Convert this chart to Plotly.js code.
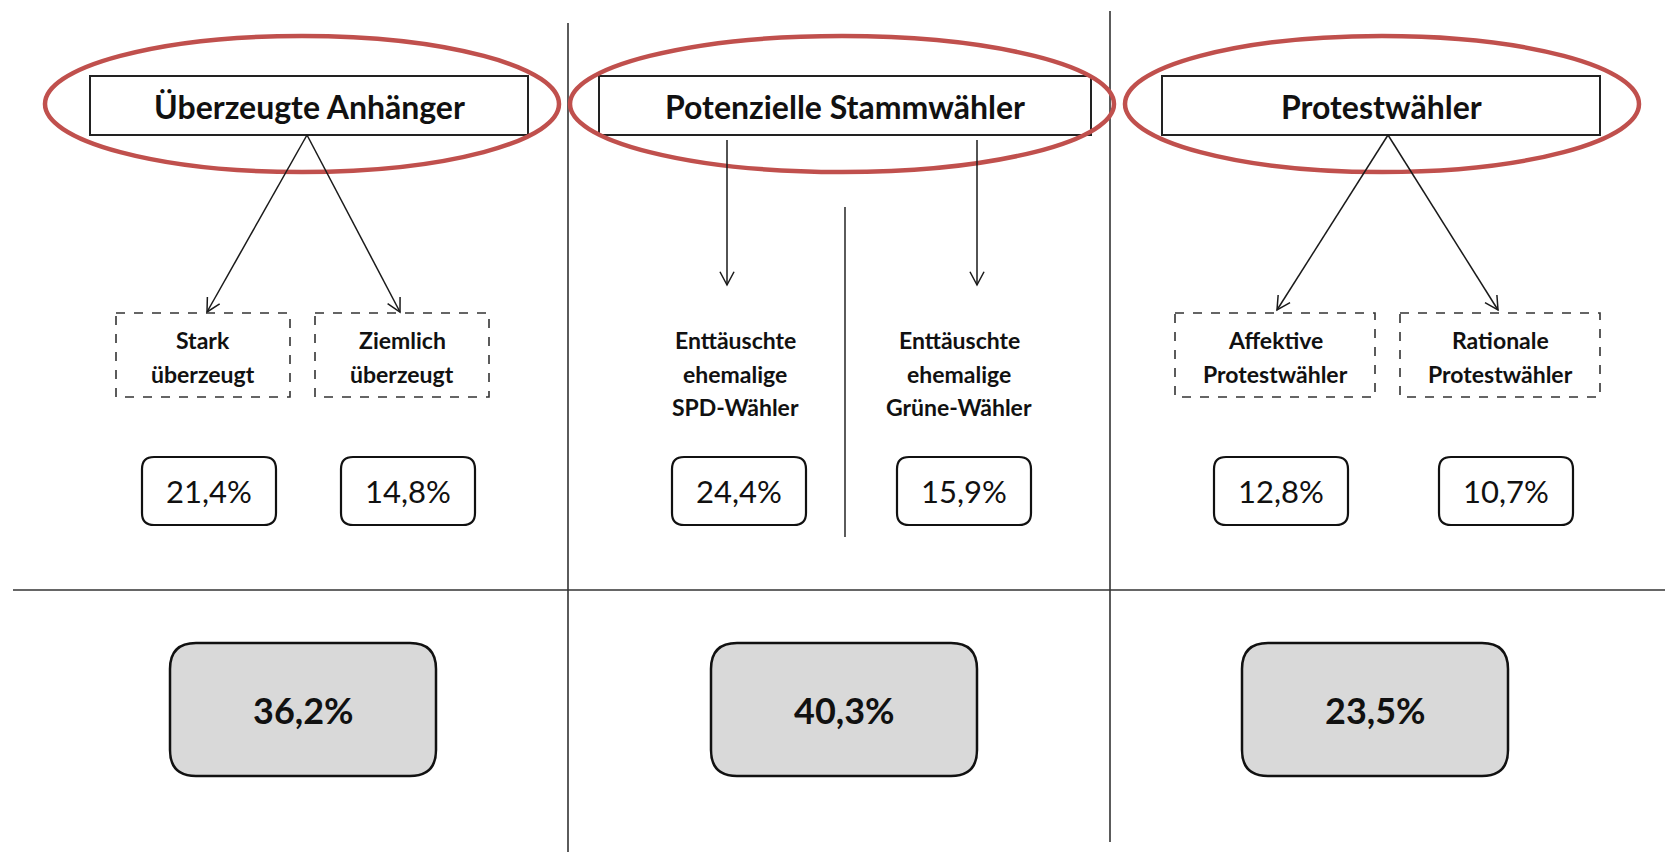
<!DOCTYPE html>
<html><head><meta charset="utf-8">
<script src="https://cdn.plot.ly/plotly-3.0.1.min.js"></script>
<style>html,body{margin:0;padding:0;background:#fff;overflow:hidden}</style>
</head><body><div id="chart" style="width:1665px;height:852px"></div>
<script>
// ---- data ----
const groups = ["Überzeugte Anhänger", "Potenzielle Stammwähler", "Protestwähler"];
const subLabels = ["Stark<br>überzeugt", "Ziemlich<br>überzeugt",
  "Enttäuschte<br>ehemalige<br>SPD-Wähler", "Enttäuschte<br>ehemalige<br>Grüne-Wähler",
  "Affektive<br>Protestwähler", "Rationale<br>Protestwähler"];
const subGroup = [0, 0, 1, 1, 2, 2];
const subValues = [21.4, 14.8, 24.4, 15.9, 12.8, 10.7];
const totals = [36.2, 40.3, 23.5];

// ---- layout geometry (pixels, y downwards) ----
const W = 1665, H = 852;
const hdr = {cx: [309, 845, 1381], hw: [219, 246, 219], y0: 76, y1: 135, ty: 106};
const ell = {cx: [302, 842, 1382], rx: [257, 272, 257], cy: 104, ry: 68};
const sub = {cx: [203, 402, 735, 959, 1275, 1500], hw: [87, 87, 0, 0, 100, 100], dashed: [true, true, false, false, true, true],
  y0: 313, y1: 397, firstLine: 340, lineGap: 33.5};
const arrowFrom = [[307, 135], [307, 135], [727, 140], [977, 140], [1388, 135], [1388, 135]];
const arrowTo = [[207, 312], [400, 312], [727, 285], [977, 285], [1277, 310], [1498, 310]];
const val = {cx: [209, 408, 739, 964, 1281, 1506], hw: 67, y0: 457, y1: 525, r: 12};
const tot = {cx: [303, 844, 1375], hw: 133, y0: 643, y1: 776, r: 26};
const dividers = [[568, 23, 568, 852], [1110, 11, 1110, 842], [13, 590, 1665, 590], [845, 207, 845, 537]];

const fmt = v => v.toFixed(1).replace('.', ',') + '%';
function rrect(x0, y0, x1, y1, r) {
  return `M${x0 + r},${y0} L${x1 - r},${y0} Q${x1},${y0} ${x1},${y0 + r} L${x1},${y1 - r} Q${x1},${y1} ${x1 - r},${y1} ` +
         `L${x0 + r},${y1} Q${x0},${y1} ${x0},${y1 - r} L${x0},${y0 + r} Q${x0},${y0} ${x0 + r},${y0} Z`;
}
function chevron(x0, y0, x1, y1, L, angDeg) {
  const dx = x1 - x0, dy = y1 - y0, n = Math.hypot(dx, dy), ux = dx / n, uy = dy / n;
  const a = angDeg * Math.PI / 180, c = Math.cos(a), s = Math.sin(a);
  const p1 = [x1 - L * (ux * c - uy * s), y1 - L * (uy * c + ux * s)];
  const p2 = [x1 - L * (ux * c + uy * s), y1 - L * (uy * c - ux * s)];
  return `M${p1[0]},${p1[1]} L${x1},${y1} L${p2[0]},${p2[1]}`;
}

const shapes = [], annotations = [];
const ink = '#1a1a1a';
dividers.forEach(d => shapes.push({type: 'line', xref: 'x', yref: 'y', x0: d[0], y0: d[1], x1: d[2], y1: d[3],
  line: {color: '#333', width: 1.6}}));

groups.forEach((g, i) => {
  shapes.push({type: 'rect', xref: 'x', yref: 'y', x0: hdr.cx[i] - hdr.hw[i], x1: hdr.cx[i] + hdr.hw[i], y0: hdr.y0, y1: hdr.y1,
    line: {color: '#222', width: 2}, fillcolor: 'rgba(0,0,0,0)'});
  shapes.push({type: 'circle', xref: 'x', yref: 'y', x0: ell.cx[i] - ell.rx[i], x1: ell.cx[i] + ell.rx[i],
    y0: ell.cy - ell.ry, y1: ell.cy + ell.ry, line: {color: '#c0504d', width: 4.5}});
  annotations.push({x: hdr.cx[i], y: hdr.ty, xref: 'x', yref: 'y', text: '<b>' + g + '</b>', showarrow: false,
    xanchor: 'center', yanchor: 'middle', font: {size: 32, color: '#111'}});
  shapes.push({type: 'path', xref: 'x', yref: 'y', path: rrect(tot.cx[i] - tot.hw, tot.y0, tot.cx[i] + tot.hw, tot.y1, tot.r),
    fillcolor: '#d9d9d9', line: {color: '#111', width: 2.5}});
  annotations.push({x: tot.cx[i], y: (tot.y0 + tot.y1) / 2, xref: 'x', yref: 'y', text: '<b>' + fmt(totals[i]) + '</b>',
    showarrow: false, xanchor: 'center', yanchor: 'middle', font: {size: 36, color: '#111'}});
});

subLabels.forEach((s, j) => {
  const f = arrowFrom[j], t = arrowTo[j];
  shapes.push({type: 'line', xref: 'x', yref: 'y', x0: f[0], y0: f[1], x1: t[0], y1: t[1], line: {color: ink, width: 1.5}});
  shapes.push({type: 'path', xref: 'x', yref: 'y', path: chevron(f[0], f[1], t[0], t[1], 15, 28), line: {color: ink, width: 1.5}});
  if (sub.dashed[j]) {
    shapes.push({type: 'rect', xref: 'x', yref: 'y', x0: sub.cx[j] - sub.hw[j], x1: sub.cx[j] + sub.hw[j], y0: sub.y0, y1: sub.y1,
      line: {color: '#333', width: 1.6, dash: 'dash'}, fillcolor: 'rgba(0,0,0,0)'});
  }
  s.split('<br>').forEach((ln, k) => {
    annotations.push({x: sub.cx[j], y: sub.firstLine + k * sub.lineGap, xref: 'x', yref: 'y', text: '<b>' + ln + '</b>',
      showarrow: false, xanchor: 'center', yanchor: 'middle', font: {size: 23, color: '#111'}});
  });
  shapes.push({type: 'path', xref: 'x', yref: 'y', path: rrect(val.cx[j] - val.hw, val.y0, val.cx[j] + val.hw, val.y1, val.r),
    fillcolor: '#fff', line: {color: '#111', width: 2.2}});
  annotations.push({x: val.cx[j], y: (val.y0 + val.y1) / 2, xref: 'x', yref: 'y', text: fmt(subValues[j]), showarrow: false,
    xanchor: 'center', yanchor: 'middle', font: {size: 31, color: '#111'}});
});

const layout = {
  width: W, height: H, margin: {l: 0, r: 0, t: 0, b: 0},
  paper_bgcolor: '#fff', plot_bgcolor: '#fff',
  font: {family: 'Lato, "Open Sans", sans-serif', color: '#111'},
  xaxis: {range: [0, W], visible: false, fixedrange: true},
  yaxis: {range: [H, 0], visible: false, fixedrange: true},
  showlegend: false, shapes: shapes, annotations: annotations
};
Plotly.newPlot('chart', [], layout, {displayModeBar: false, staticPlot: true});
</script></body></html>
